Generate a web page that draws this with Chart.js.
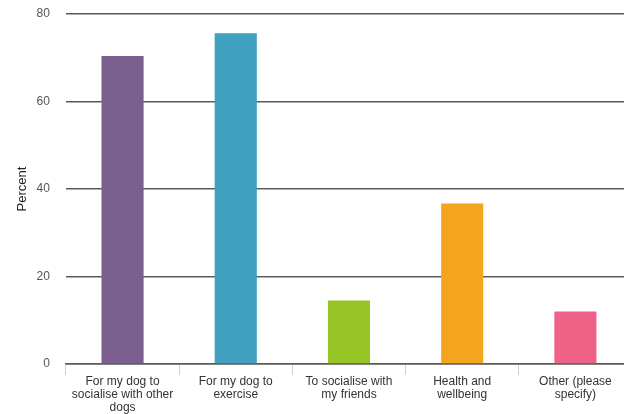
<!DOCTYPE html>
<html>
<head>
<meta charset="utf-8">
<script src="https://cdn.jsdelivr.net/npm/chart.js@4"></script>
<style>
  html, body { margin: 0; padding: 0; background: #fff; overflow: hidden; }
  #wrap { width: 632px; height: 414px; }
</style>
</head>
<body>
<div id="wrap"><canvas id="chart" width="632" height="414"></canvas></div>
<script>
var categories = [
    ["For my dog to", "socialise with other", "dogs"],
    ["For my dog to", "exercise"],
    ["To socialise with", "my friends"],
    ["Health and", "wellbeing"],
    ["Other (please", "specify)"]
];
var percents = [70.4, 75.6, 14.5, 36.7, 12.0];
var barColors = ['#7b5f8f', '#40a0c0', '#95c424', '#f4a41f', '#ef6187'];
var yTicks = [0, 20, 40, 60, 80];

var ctx = document.getElementById("chart");

var chartGraph = new Chart(ctx, {
    type: 'bar',
    data: {
        labels: categories,
        datasets: [{
            label: "Percent",
            data: percents,
            backgroundColor: barColors,
            borderWidth: 0,
            barPercentage: 0.372,
            categoryPercentage: 1
        }]
    },
    options: {
        responsive: false,
        animation: false,
        layout: {
            padding: { top: 14, left: 11, right: 0, bottom: 0 }
        },
        plugins: {
            legend: { display: false },
            tooltip: { enabled: false }
        },
        scales: {
            x: {
                grid: {
                    offset: true,
                    drawOnChartArea: false,
                    tickLength: 11,
                    color: '#cfcfcf'
                },
                border: { color: '#5a5a5a', width: 1.5 },
                ticks: {
                    padding: 0,
                    maxRotation: 0,
                    autoSkip: false,
                    color: '#333',
                    font: { family: 'Liberation Sans, Arial', size: 12, lineHeight: '13px' }
                }
            },
            y: {
                min: 0,
                max: 80,
                afterBuildTicks: function (axis) {
                    axis.ticks = yTicks.map(function (v) { return { value: v }; });
                },
                grid: {
                    drawTicks: true,
                    tickLength: 16,
                    tickColor: 'rgba(0,0,0,0)',
                    color: '#5a5a5a',
                    lineWidth: 1.5
                },
                border: { display: false },
                ticks: {
                    padding: 0,
                    color: '#555',
                    font: { family: 'Liberation Sans, Arial', size: 12 }
                },
                title: {
                    display: true,
                    text: 'Percent',
                    color: '#222',
                    padding: { top: 4, bottom: 6 },
                    font: { family: 'Liberation Sans, Arial', size: 13 }
                }
            }
        }
    }
});
</script>
</body>
</html>
